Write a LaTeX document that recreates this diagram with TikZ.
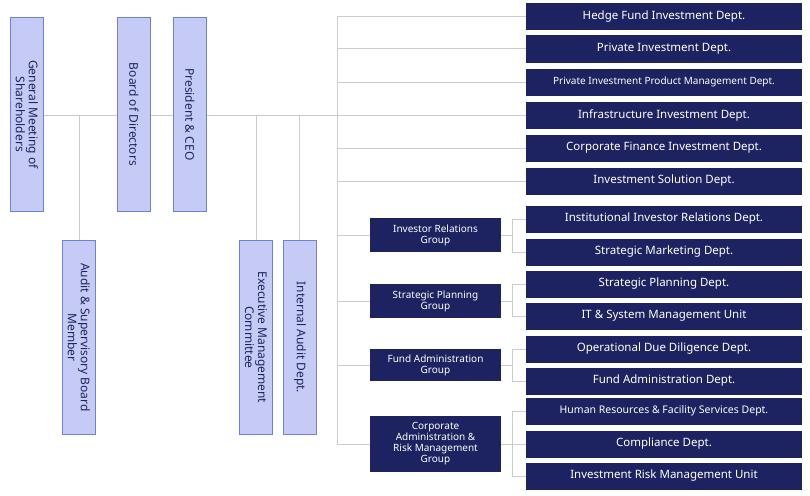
\documentclass[tikz,border=0pt]{standalone}
\usepackage{fontspec}
\setmainfont{Noto Sans}
\definecolor{navy}{HTML}{1C2360}
\definecolor{lav}{HTML}{C5CBF5}
\definecolor{lavb}{HTML}{7080DD}
\definecolor{ln}{HTML}{CCCCCC}
\begin{document}
\begin{tikzpicture}[x=1pt,y=-1pt,
 vbox/.style={draw=lavb,fill=lav,line width=0.8pt,minimum width=33pt,minimum height=194pt,inner sep=0pt,anchor=north west},
 vt/.style={rotate=-90,font=\fontsize{12}{13}\selectfont,text=navy,align=center},
 dept/.style={fill=navy,text=white,minimum width=276pt,minimum height=27pt,inner sep=0pt,font=\fontsize{11.5}{13}\selectfont},
 grp/.style={fill=navy,text=white,minimum width=131pt,inner sep=1pt,font=\bfseries\fontsize{10}{11}\selectfont,align=center},
 l/.style={draw=ln,line width=1pt}]
\useasboundingbox (0,0) rectangle (810,495);
\coordinate (h0) at (43,115); \coordinate (h1) at (337,115);
\coordinate (t0) at (337,17); \coordinate (t1) at (337,444);
\draw[l] (h0)--(h1); \draw[l] (t0)--(t1);
\draw[l] (79,115)--(79,240); \draw[l] (256,115)--(256,240); \draw[l] (299,115)--(299,240);
\node[vbox] (gm) at (10,17) {}; \node[vt] at (gm.center) {General Meeting of\\Shareholders};
\node[vbox] (bd) at (117,17) {}; \node[vt] at (bd.center) {Board of Directors};
\node[vbox] (pc) at (173,17) {}; \node[vt] at (pc.center) {President \& CEO};
\node[vbox] (as) at (62,240) {}; \node[vt] at (as.center) {Audit \& Supervisory Board\\Member};
\node[vbox] (ex) at (239,240) {}; \node[vt] at (ex.center) {Executive Management\\Committee};
\node[vbox] (ia) at (283,240) {}; \node[vt] at (ia.center) {Internal Audit Dept.};
\foreach \n/\y/\t in {d1/17/Hedge Fund Investment Dept.,d2/49/Private Investment Dept.,d4/115/Infrastructure Investment Dept.,d5/148/Corporate Finance Investment Dept.,d6/181/Investment Solution Dept.}{
 \node[dept] (\n) at (664,\y) {\t}; \draw[l] (337,\y)--(\n.west);}
\node[dept,font=\fontsize{10}{12}\selectfont] (d3) at (664,82) {Private Investment Product Management Dept.}; \draw[l] (337,82)--(d3.west);
\node[grp,minimum height=34pt] (g1) at (435.5,235) {Investor Relations\\Group};
\node[grp,minimum height=34pt] (g2) at (435.5,301) {Strategic Planning\\Group};
\node[grp,minimum height=32pt] (g3) at (435.5,365) {Fund Administration\\Group};
\node[grp,minimum height=56pt] (g4) at (435.5,444) {Corporate\\Administration \&\\Risk Management\\Group};
\foreach \g in {g1,g2,g3,g4}{\draw[l] (337,0 |- \g.west)--(\g.west);}
\node[dept] (e1) at (664,219) {Institutional Investor Relations Dept.};
\node[dept] (e2) at (664,252) {Strategic Marketing Dept.};
\node[dept] (e3) at (664,284) {Strategic Planning Dept.};
\node[dept] (e4) at (664,316) {IT \& System Management Unit};
\node[dept] (e5) at (664,349) {Operational Due Diligence Dept.};
\node[dept] (e6) at (664,381) {Fund Administration Dept.};
\node[dept,font=\fontsize{10.5}{12}\selectfont] (e7) at (664,411) {Human Resources \& Facility Services Dept.};
\node[dept] (e8) at (664,444) {Compliance Dept.};
\node[dept] (e9) at (664,476) {Investment Risk Management Unit};
\foreach \g/\p/\q in {g1/e1/e2,g2/e3/e4,g3/e5/e6,g4/e7/e9}{
 \draw[l] (\g.east)--(512,0 |- \g.east);
 \draw[l] (\p.west)--(512,0 |- \p.west)--(512,0 |- \q.west)--(\q.west);}
\draw[l] (g4.east)--(e8.west);
\end{tikzpicture}
\end{document}
